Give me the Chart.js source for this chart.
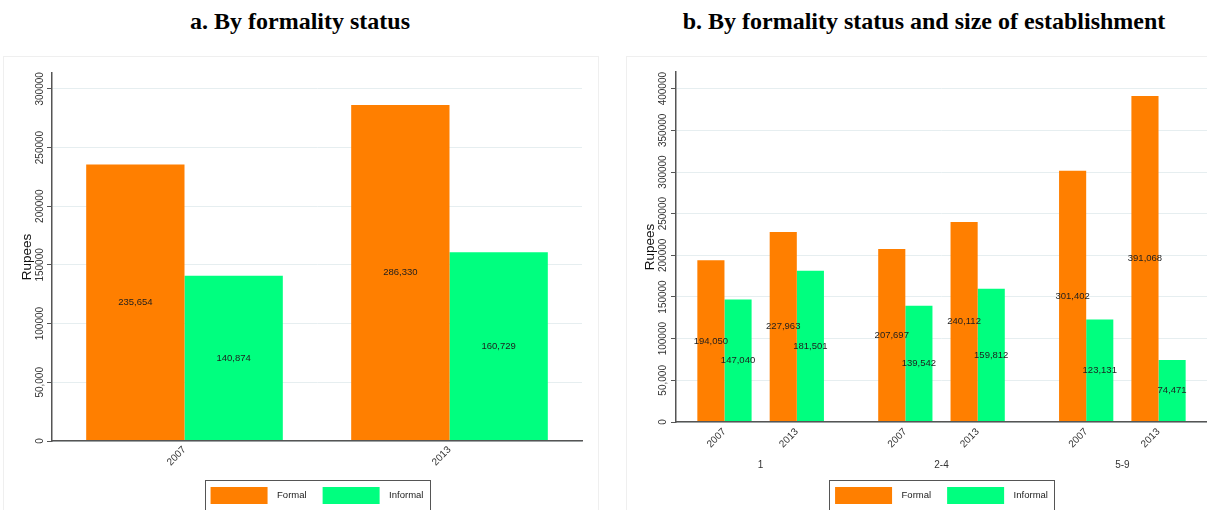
<!DOCTYPE html>
<html>
<head>
<meta charset="UTF-8">
<title>Earnings by formality status</title>
<script src="https://cdn.jsdelivr.net/npm/chart.js"></script>
<style>
    html, body { margin: 0; padding: 0; background: #fff; width: 1207px; height: 510px; overflow: hidden; position: relative; }
    .title { position: absolute; top: 7px; font: bold 24px "Liberation Serif", "Times New Roman", serif; line-height: 28px; text-align: center; color: #000; white-space: nowrap; }
    .panel { position: absolute; top: 56px; border: 1px solid #efefef; }
    canvas { position: absolute; }
</style>
</head>
<body>

<div class="title" style="left:2px; width:596px;">a. By formality status</div>
<div class="title" style="left:626px; width:596px;">b. By formality status and size of establishment</div>

<div class="panel" style="left:3px; width:594px; height:470px;"></div>
<div class="panel" style="left:626px; width:600px; height:470px;"></div>

<canvas id="chart-a" width="595" height="460" style="left:3px; top:56px;"></canvas>
<canvas id="chart-b" width="581" height="460" style="left:626px; top:56px;"></canvas>

<script>
    // Panel a: by formality status
    const years = ['2007', '2013'];
    const formalA = [235654, 286330];
    const informalA = [140874, 160729];
    const yTicksA = [0, 50000, 100000, 150000, 200000, 250000, 300000];
    const yLabelsA = ['0', '50,000', '100000', '150000', '200000', '250000', '300000'];

    // Panel b: by formality status and size of establishment (workers)
    const sizeGroups = ['1', '2-4', '5-9'];
    const formalB = [194050, 227963, 207697, 240112, 301402, 391068];
    const informalB = [147040, 181501, 139542, 159812, 123131, 74471];
    const yTicksB = [0, 50000, 100000, 150000, 200000, 250000, 300000, 350000, 400000];
    const yLabelsB = ['0', '50,000', '100000', '150000', '200000', '250000', '300000', '350000', '400000'];

    const ORANGE = '#ff7f00';
    const GREEN = '#00ff7f';
    const AXIS = '#555555';
    const GRID = '#e6eef0';
    const FONT = '"Liberation Sans", Arial, Helvetica, sans-serif';

    Chart.defaults.font.family = FONT;
    Chart.defaults.color = '#333';

    // value written in the middle of every bar
    const valueLabels = {
        id: 'valueLabels',
        afterDatasetsDraw(chart) {
            const ctx = chart.ctx;
            ctx.save();
            ctx.font = '9.5px ' + FONT;
            ctx.fillStyle = '#1e1e1e';
            ctx.textAlign = 'center';
            ctx.textBaseline = 'middle';
            chart.data.datasets.forEach((ds, i) => {
                chart.getDatasetMeta(i).data.forEach((bar, j) => {
                    const raw = ds.data[j];
                    const v = typeof raw === 'object' ? raw.y : raw;
                    ctx.fillText(v.toLocaleString('en-US'), bar.x, (bar.y + bar.base) / 2);
                });
            });
            ctx.restore();
        }
    };

    // vertical y tick labels (Stata style)
    const rotatedYTicks = {
        id: 'rotatedYTicks',
        afterDraw(chart, args, opts) {
            const ctx = chart.ctx;
            const scale = chart.scales.y;
            ctx.save();
            ctx.font = '10px ' + FONT;
            ctx.fillStyle = '#333';
            ctx.textAlign = 'center';
            ctx.textBaseline = 'middle';
            opts.values.forEach((v, i) => {
                ctx.save();
                ctx.translate(opts.x, scale.getPixelForValue(v));
                ctx.rotate(-Math.PI / 2);
                ctx.fillText(opts.labels[i], 0, 0);
                ctx.restore();
            });
            ctx.restore();
        }
    };

    // frame round the legend
    const legendFrame = {
        id: 'legendFrame',
        afterDraw(chart) {
            const boxes = chart.legend.legendHitBoxes;
            if (!boxes || !boxes.length) return;
            const left = Math.min(...boxes.map(b => b.left));
            const right = Math.max(...boxes.map(b => b.left + b.width));
            const top = boxes[0].top;
            const bottom = top + boxes[0].height;
            const ctx = chart.ctx;
            ctx.save();
            ctx.strokeStyle = AXIS;
            ctx.lineWidth = 1;
            ctx.strokeRect(Math.round(left - 6) + 0.5, Math.round(top - 7) + 0.5, Math.round(right - left + 12), Math.round(bottom - top + 13));
            ctx.restore();
        }
    };

    function yScale(ticks, max, width) {
        return {
            min: 0,
            max: max,
            afterBuildTicks: s => { s.ticks = ticks.map(v => ({ value: v })); },
            afterFit: s => { s.width = width; },
            ticks: { display: false },
            grid: { color: GRID, lineWidth: 1, drawTicks: true, tickLength: 5, tickColor: AXIS, tickWidth: 1 },
            border: { display: true, color: AXIS, width: 1.5, z: 1 },
            title: { display: true, text: 'Rupees', color: '#111', font: { size: 13.5 }, padding: { top: 16 } }
        };
    }

    function legendOpts() {
        return {
            position: 'bottom',
            fullSize: false,
            labels: {
                boxWidth: 57, boxHeight: 17, padding: 16, color: '#222', font: { size: 9.5 },
                // a little more room between swatch and text
                generateLabels: chart => Chart.defaults.plugins.legend.labels.generateLabels(chart)
                    .map(item => Object.assign(item, { text: '\u2002' + item.text }))
            }
        };
    }

    // ---- chart a ----
    new Chart(document.getElementById('chart-a').getContext('2d'), {
        type: 'bar',
        data: {
            labels: years,
            datasets: [
                { label: 'Formal', data: formalA, backgroundColor: ORANGE, borderWidth: 0, categoryPercentage: 0.742, barPercentage: 1 },
                { label: 'Informal', data: informalA, backgroundColor: GREEN, borderWidth: 0, categoryPercentage: 0.742, barPercentage: 1 }
            ]
        },
        options: {
            responsive: false,
            animation: false,
            layout: { padding: { top: 17, right: 16, bottom: 2, left: 0 } },
            plugins: {
                legend: legendOpts(),
                tooltip: { enabled: false },
                rotatedYTicks: { values: yTicksA, labels: yLabelsA, x: 37 }
            },
            scales: {
                x: {
                    grid: { display: false, drawTicks: false },
                    border: { display: true, color: AXIS, width: 1.5, z: 1 },
                    ticks: { minRotation: 45, maxRotation: 45, padding: 3, color: '#333', font: { size: 10 } },
                    afterFit: s => { s.height = 30; }
                },
                y: yScale(yTicksA, 313500, 49)
            }
        },
        plugins: [valueLabels, rotatedYTicks, legendFrame]
    });

    // ---- chart b ----
    // slot of each bar pair on the x axis: 2 slots between years, 5 between size groups
    const slotsB = [];
    sizeGroups.forEach((g, gi) => years.forEach((y, yi) => slotsB.push(gi * 5 + yi * 2)));
    const groupCentersB = sizeGroups.map((g, gi) => gi * 5 + 1);
    const xMinB = -1.34, xMaxB = 13.34;

    new Chart(document.getElementById('chart-b').getContext('2d'), {
        type: 'bar',
        data: {
            datasets: [
                { label: 'Formal', data: formalB.map((v, i) => ({ x: slotsB[i], y: v })), backgroundColor: ORANGE, borderWidth: 0, categoryPercentage: 0.75, barPercentage: 1 },
                { label: 'Informal', data: informalB.map((v, i) => ({ x: slotsB[i], y: v })), backgroundColor: GREEN, borderWidth: 0, categoryPercentage: 0.75, barPercentage: 1 }
            ]
        },
        options: {
            responsive: false,
            animation: false,
            layout: { padding: { top: 16, right: 0, bottom: 2, left: 0 } },
            plugins: {
                legend: legendOpts(),
                tooltip: { enabled: false },
                rotatedYTicks: { values: yTicksB, labels: yLabelsB, x: 37 }
            },
            scales: {
                x: {
                    type: 'linear',
                    position: 'bottom',
                    min: xMinB,
                    max: xMaxB,
                    offset: false,
                    weight: 0,
                    grid: { display: false, drawTicks: false },
                    border: { display: true, color: AXIS, width: 1.5, z: 1 },
                    afterBuildTicks: s => { s.ticks = slotsB.map(v => ({ value: v })); },
                    ticks: { autoSkip: false, minRotation: 45, maxRotation: 45, padding: 4, color: '#333', font: { size: 10 },
                             callback: (v, i) => years[i % years.length] },
                    afterFit: s => { s.height = 30; }
                },
                x2: {
                    type: 'linear',
                    position: 'bottom',
                    min: xMinB,
                    max: xMaxB,
                    offset: false,
                    weight: 1,
                    grid: { display: false, drawTicks: false },
                    border: { display: false },
                    afterBuildTicks: s => { s.ticks = groupCentersB.map(v => ({ value: v })); },
                    ticks: { autoSkip: false, minRotation: 0, maxRotation: 0, padding: 7, color: '#333', font: { size: 10 },
                             callback: (v, i) => sizeGroups[i] },
                    afterFit: s => { s.height = 19; }
                },
                y: yScale(yTicksB, 420000, 50)
            }
        },
        plugins: [valueLabels, rotatedYTicks, legendFrame]
    });
</script>

</body>
</html>
